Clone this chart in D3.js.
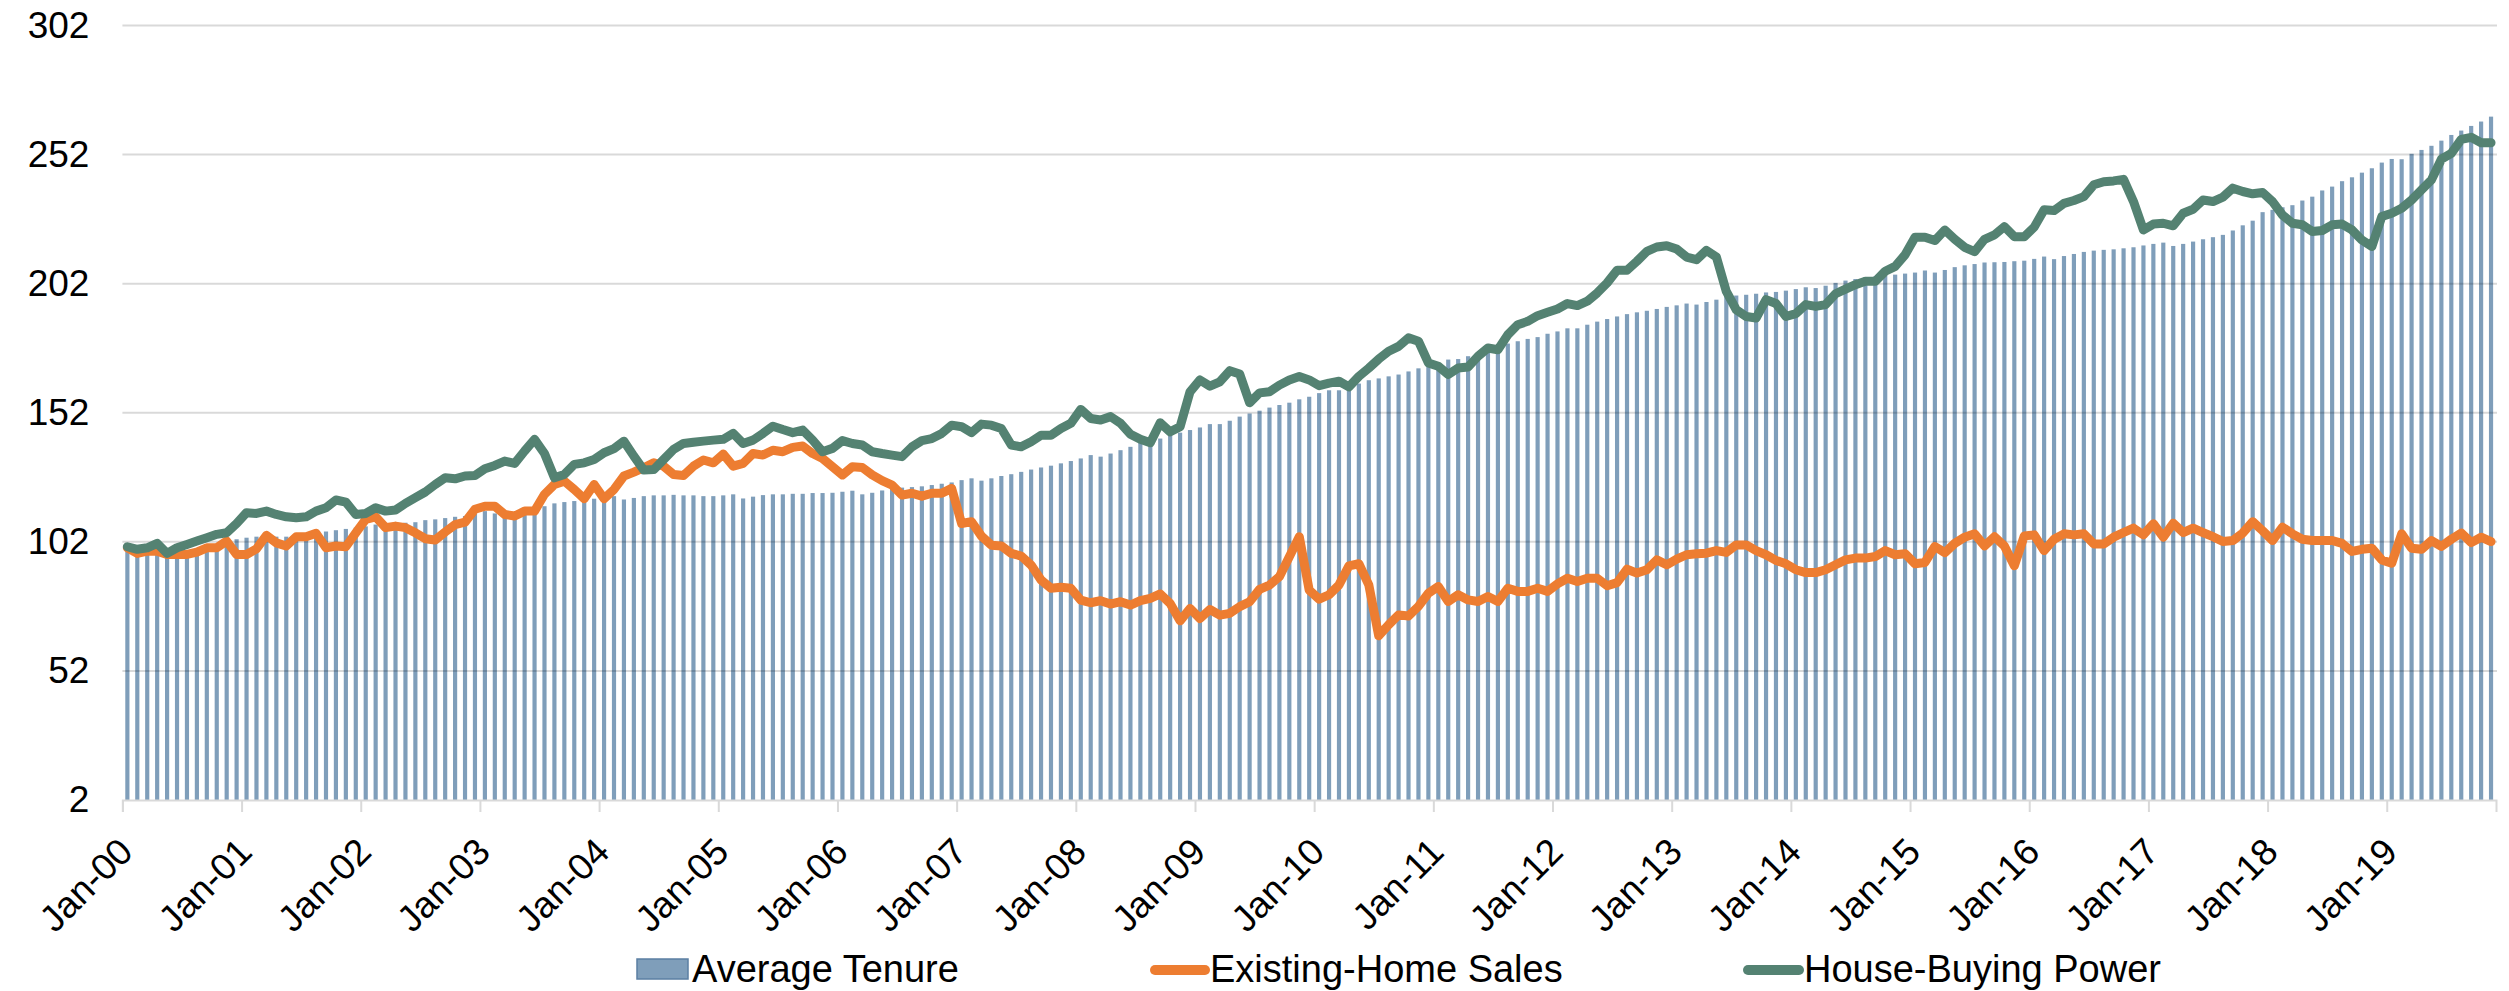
<!DOCTYPE html>
<html>
<head>
<meta charset="utf-8">
<script src="https://cdn.jsdelivr.net/npm/d3@7"></script>
<style>
body{margin:0;background:#fff;}
svg{display:block;font-family:"Liberation Sans",Arial,sans-serif;}
</style>
</head>
<body>
<svg id="chart" width="2509" height="991"></svg>
<script>
// monthly, Jan-00 .. Nov-19
var tenure = [
 99, 98, 98, 98.5, 97.5, 97.5, 98, 98.5, 99.3, 100, 101.5, 103,
 103.6, 104, 104, 104, 104, 104.5, 105, 105.5, 106, 106.5, 107, 107.5,
 108, 108.7, 108.5, 109, 109.4, 109.6, 110.4, 110.7, 111.2, 111.7, 112, 113,
 113.9, 113, 112, 113, 114.6, 114.6, 115.8, 116.9, 117.4, 117.8, 118.3, 118.7,
 119, 119.7, 118.4, 119, 119.7, 120, 120, 120.2, 120, 120, 119.7, 119.7,
 120, 120.4, 118.8, 119.5, 120.1, 120.4, 120.4, 120.6, 120.6, 120.9, 120.9, 121,
 121.4, 121.8, 120.4, 121, 121.9, 122.7, 123, 123.2, 123.5, 124, 124.5, 125,
 125.9, 126.6, 125.7, 126.6, 127.5, 128.2, 129.1, 130, 130.8, 131.5, 132.4, 133.3,
 134.3, 135.6, 135, 136.2, 137.5, 138.8, 140.4, 141.2, 142, 143.7, 144.3, 145.3,
 146.3, 147.6, 147.6, 148.9, 150.5, 151.7, 152.8, 154, 155, 155.9, 157.2, 158.2,
 159.6, 160.7, 160.7, 161.6, 163.3, 164.6, 165.3, 166.1, 166.8, 168, 169.2, 170.6,
 171.3, 172.6, 172.8, 173.9, 175.1, 176.4, 177.7, 178.8, 179.7, 180.6, 181.3, 182.6,
 183.5, 184.7, 184.7, 186.1, 187.3, 188.3, 189.3, 190.2, 190.9, 191.5, 192.2, 193,
 193.6, 194.3, 193.9, 194.9, 195.8, 197.4, 197.4, 197.7, 198.1, 198.6, 198.8, 199.3,
 199.9, 200.6, 200.3, 201.2, 202.3, 203.2, 203.8, 204.5, 204.8, 205.1, 205.5, 205.9,
 206.3, 207.1, 206.3, 207.3, 208.4, 209.1, 209.6, 210.2, 210.3, 210.4, 210.7, 210.9,
 211.6, 212.5, 211.5, 212.7, 213.5, 214.3, 214.8, 215.1, 215.3, 215.7, 216.1, 216.8,
 217.4, 217.9, 216.6, 217.4, 218.3, 219.2, 220, 220.9, 222.6, 224.6, 226.4, 229.7,
 230.6, 231.6, 232.4, 234.2, 235.7, 238.1, 239.6, 241.7, 243.2, 245, 246.7, 248.9,
 250.3, 250.2, 252.3, 253.8, 255.4, 257.4, 259.6, 261.3, 263.1, 264.8, 266.7
];
var homeSales = [
 99.7, 97.5, 98.4, 98.4, 97.1, 97.1, 97.1, 98, 99.7, 99.7, 102.3, 97.1,
 97.1, 99.3, 104.5, 101.6, 100.4, 104, 104, 105.3, 99.7, 100.4, 100.1, 105.5,
 110.7, 111.7, 107.5, 108.1, 107.5, 105.5, 103.2, 102.7, 105.8, 108.7, 109.6, 114.6,
 115.8, 115.8, 112.6, 112, 113.9, 113.9, 120.4, 124.2, 125.5, 122.3, 118.7, 124.2,
 118.7, 122.3, 127.5, 129, 130.7, 132.6, 131.3, 128.1, 127.7, 131.3, 133.7, 132.6,
 136, 131.3, 132.4, 136.2, 135.6, 137.5, 136.9, 138.6, 139.1, 136.2, 134.3, 131.1,
 127.9, 131.1, 130.8, 127.9, 125.7, 124, 120.1, 120.8, 119.7, 120.8, 120.8, 122.7,
 109.1, 109.8, 104.2, 100.7, 100.4, 97.5, 96.5, 93, 87.2, 84, 84.4, 84,
 79.4, 78.4, 79.2, 77.9, 78.8, 77.5, 79.2, 80.1, 81.8, 78.1, 71.4, 76.2,
 72.3, 75.8, 73.6, 74.3, 76.9, 78.8, 83.6, 85.2, 88.5, 96.2, 104, 83.3,
 79.8, 81.5, 85.3, 92.7, 93.5, 85.3, 65.6, 69.9, 73.7, 73.3, 77, 82.1,
 84.7, 78.9, 81.5, 79.5, 78.9, 80.8, 78.9, 84, 82.8, 82.8, 84, 82.8,
 85.7, 87.9, 86.6, 87.9, 87.9, 85, 86.2, 91.4, 89.9, 91.2, 95, 93.1,
 95.3, 97, 97.4, 97.6, 98.6, 97.9, 100.8, 100.8, 98.6, 97, 94.8, 93.5,
 91.2, 90.1, 90.1, 91.2, 93.1, 95, 95.7, 95.7, 96.3, 98.6, 97, 97.4,
 93.5, 94, 100.2, 97.8, 101.4, 103.8, 105.1, 100.4, 104, 100.4, 92.7, 104.3,
 104.7, 98.6, 103, 105.1, 104.7, 105.1, 101.2, 101.2, 103.8, 105.6, 107.3, 104.7,
 109, 103.8, 109.2, 105.6, 107.3, 105.6, 104, 102.1, 102.5, 105.4, 109.8, 106.3,
 102.5, 107.7, 105.1, 103, 102.5, 102.5, 102.5, 101.4, 98.3, 99.1, 99.5, 95,
 93.7, 105.1, 99.5, 99.1, 102.5, 100.2, 103, 105.4, 101.7, 103.8, 102.1
];
var buyingPower = [
 100.1, 99.1, 99.7, 101.4, 97.5, 99.7, 101, 102.3, 103.6, 104.9, 105.5, 109.1,
 113.3, 113, 113.9, 112.6, 111.7, 111.3, 111.7, 113.9, 115.2, 118.2, 117.4, 112.6,
 113, 115.2, 113.9, 114.3, 116.9, 119.1, 121.3, 124.2, 126.8, 126.4, 127.5, 127.7,
 130.3, 131.6, 133.3, 132.4, 137.2, 141.7, 136.2, 126.8, 128.1, 132, 132.6, 133.9,
 136.5, 138.1, 141, 135.2, 129.8, 130, 133.9, 137.8, 140.1, 140.6, 141, 141.4,
 141.7, 144, 140.1, 141.4, 144, 146.8, 145.5, 144.3, 145.3, 141.4, 136.9, 138.2,
 141.2, 140.1, 139.5, 136.9, 136.2, 135.6, 135, 138.8, 141.2, 142, 144, 147.2,
 146.6, 144.3, 147.6, 147.2, 145.9, 139.5, 138.8, 140.8, 143.3, 143.3, 145.9, 147.9,
 153.3, 149.8, 149.2, 150.5, 147.9, 143.7, 141.7, 140.4, 148.1, 144.6, 146.6, 160.1,
 164.7, 162.3, 164, 168.3, 167, 155.9, 159.7, 160.1, 162.7, 164.7, 166, 164.7,
 162.5, 163.5, 164.2, 162, 166.1, 169.3, 172.8, 175.8, 177.7, 181, 179.7, 171.3,
 170, 166.8, 169.3, 169.7, 173.9, 177.1, 176.4, 182.2, 186.1, 187.4, 189.6, 190.9,
 192.2, 194.3, 193.5, 195.2, 198.4, 202.3, 207.2, 207.2, 210.7, 214.5, 216.2, 216.7,
 215.4, 212.3, 211.3, 214.9, 212.3, 199, 191.9, 189.3, 188.7, 195.8, 194.3, 189.3,
 190.4, 193.9, 193.2, 193.9, 198.1, 199.9, 201.6, 202.9, 202.9, 206.8, 208.7, 213.2,
 220, 220, 218.7, 222.8, 219.2, 216.1, 214.4, 219.2, 220.9, 224.1, 220.2, 220.2,
 223.9, 230.6, 230.3, 233.1, 234.2, 235.7, 240.3, 241.5, 241.8, 242.4, 233.8, 222.8,
 225.1, 225.4, 224.4, 229.3, 230.8, 234.4, 233.8, 235.5, 239, 237.7, 236.8, 237.3,
 233.8, 228.6, 225.4, 224.8, 222.2, 222.6, 224.8, 225.1, 222.8, 218.9, 216.4, 228,
 229.3, 231.2, 234.4, 238.3, 242.2, 250.2, 252.5, 257.9, 258.7, 256.6, 256.6
];
var tickLabels = ["Jan-00","Jan-01","Jan-02","Jan-03","Jan-04","Jan-05","Jan-06","Jan-07","Jan-08","Jan-09",
  "Jan-10","Jan-11","Jan-12","Jan-13","Jan-14","Jan-15","Jan-16","Jan-17","Jan-18","Jan-19"];
var yTicks = [2, 52, 102, 152, 202, 252, 302];
var seriesNames = ["Average Tenure", "Existing-Home Sales", "House-Buying Power"];

var colBar = "#7f9eba", colOrange = "#ed7d31", colGreen = "#548272";
var plotL = 122.4, plotR = 2496, plotT = 25.5, plotB = 800;
var n = tenure.length;
var fontFam = "Liberation Sans, Arial, sans-serif";

var svg = d3.select("#chart");

var x = d3.scaleBand().domain(d3.range(n)).range([plotL, plotR]).paddingInner(0.58).paddingOuter(0.29);
var xt = d3.scaleLinear().domain([0, n]).range([plotL, plotR]);
var y = d3.scaleLinear().domain([2, 302]).range([plotB, plotT]);

// bars
svg.append("g").selectAll("rect")
  .data(tenure)
  .enter()
  .append("rect")
  .attr("x", function(d, i){ return x(i); })
  .attr("width", x.bandwidth())
  .attr("y", function(d){ return y(d); })
  .attr("height", function(d){ return y(2) - y(d); })
  .attr("fill", colBar);

// gridlines (drawn over bars, light so they show through)
svg.append("g").selectAll("line")
  .data(yTicks.slice(1))
  .enter()
  .append("line")
  .attr("x1", plotL).attr("x2", plotR + 1)
  .attr("y1", function(d){ return y(d); })
  .attr("y2", function(d){ return y(d); })
  .attr("stroke", "rgba(0,0,0,0.15)")
  .attr("stroke-width", 2);

// y labels
var yAxis = svg.append("g")
  .attr("transform", "translate(" + plotL + ",0)")
  .call(d3.axisLeft(y).tickValues(yTicks).tickSize(0).tickPadding(33));
yAxis.select(".domain").remove();
yAxis.selectAll("text").attr("font-size", 37).attr("fill", "#000").attr("font-family", fontFam);

// x axis
var xAxis = svg.append("g")
  .attr("transform", "translate(0," + plotB + ")")
  .call(d3.axisBottom(xt).tickValues(d3.range(0, n, 12)).tickSize(12)
    .tickFormat(function(d){ return tickLabels[d / 12]; }));
xAxis.select(".domain").attr("stroke", "#d9d9d9").attr("stroke-width", 2);
xAxis.selectAll(".tick line").attr("stroke", "#d9d9d9").attr("stroke-width", 2);
xAxis.selectAll("text")
  .attr("font-size", 37).attr("fill", "#000")
  .attr("font-family", fontFam)
  .attr("text-anchor", "end")
  .attr("y", 0).attr("dy", 0)
  .attr("transform", "translate(12,54) rotate(-45)");

// lines
var line = d3.line()
  .x(function(d, i){ return x(i) + x.bandwidth() / 2; })
  .y(function(d){ return y(d); });

svg.append("path").datum(homeSales)
  .attr("d", line).attr("fill", "none")
  .attr("stroke", colOrange).attr("stroke-width", 9)
  .attr("stroke-linejoin", "round").attr("stroke-linecap", "round");
svg.append("path").datum(buyingPower)
  .attr("d", line).attr("fill", "none")
  .attr("stroke", colGreen).attr("stroke-width", 9)
  .attr("stroke-linejoin", "round").attr("stroke-linecap", "round");

// legend
var lg = svg.append("g").attr("font-size", 38).attr("font-family", fontFam);
lg.append("rect").attr("x", 637).attr("y", 959).attr("width", 51).attr("height", 20)
  .attr("fill", colBar).attr("stroke", "#5b7fa3").attr("stroke-width", 1.5);
lg.append("text").attr("x", 692).attr("y", 982).text(seriesNames[0]);
lg.append("line").attr("x1", 1155).attr("x2", 1205).attr("y1", 970).attr("y2", 970)
  .attr("stroke", colOrange).attr("stroke-width", 10).attr("stroke-linecap", "round");
lg.append("text").attr("x", 1210).attr("y", 982).text(seriesNames[1]);
lg.append("line").attr("x1", 1748).attr("x2", 1799).attr("y1", 970).attr("y2", 970)
  .attr("stroke", colGreen).attr("stroke-width", 10).attr("stroke-linecap", "round");
lg.append("text").attr("x", 1804).attr("y", 982).text(seriesNames[2]);
</script>
</body>
</html>
